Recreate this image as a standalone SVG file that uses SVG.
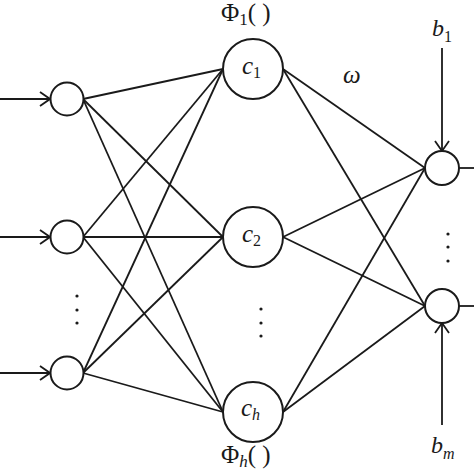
<svg xmlns="http://www.w3.org/2000/svg" width="474" height="474" viewBox="0 0 474 474">
<defs>
<marker id="arr" viewBox="0 0 12 16" refX="11" refY="8" markerWidth="12" markerHeight="16" markerUnits="userSpaceOnUse" orient="auto">
<path d="M1 1 L11 8 L1 15" fill="none" stroke="#1a1a1a" stroke-width="1.8"/>
</marker>
<style>
.n{fill:#fff;stroke:#1a1a1a;stroke-width:2}
.e line{stroke:#1a1a1a;stroke-width:1.8}
.t{font-family:"Liberation Serif","DejaVu Serif",serif;fill:#1a1a1a}
.i{font-style:italic}
.d{fill:#1a1a1a}
</style>
</defs>
<rect width="474" height="474" fill="#fff"/>
<g class="e" id="connectors">
<line x1="0" y1="99" x2="50" y2="99" marker-end="url(#arr)"/>
<line x1="0" y1="237" x2="50" y2="237" marker-end="url(#arr)"/>
<line x1="0" y1="373" x2="50" y2="373" marker-end="url(#arr)"/>
<line x1="83" y1="99" x2="223" y2="69"/>
<line x1="83" y1="99" x2="223" y2="237"/>
<line x1="83" y1="99" x2="223" y2="412"/>
<line x1="83" y1="237" x2="223" y2="69"/>
<line x1="83" y1="237" x2="223" y2="237"/>
<line x1="83" y1="237" x2="223" y2="412"/>
<line x1="83" y1="373" x2="223" y2="69"/>
<line x1="83" y1="373" x2="223" y2="237"/>
<line x1="83" y1="373" x2="223" y2="412"/>
<line x1="283" y1="69" x2="425" y2="168"/>
<line x1="283" y1="69" x2="425" y2="306"/>
<line x1="283" y1="237" x2="425" y2="168"/>
<line x1="283" y1="237" x2="425" y2="306"/>
<line x1="283" y1="412" x2="425" y2="168"/>
<line x1="283" y1="412" x2="425" y2="306"/>
<line x1="442" y1="48" x2="442" y2="151" marker-end="url(#arr)"/>
<line x1="442" y1="425" x2="442" y2="323" marker-end="url(#arr)"/>
<line x1="459" y1="168" x2="474" y2="168"/>
<line x1="459" y1="306" x2="474" y2="306"/>
</g>
<g id="in1"><circle class="n" cx="67" cy="99" r="16.5"/></g>
<g id="in2"><circle class="n" cx="67" cy="237" r="16.5"/></g>
<g id="in3"><circle class="n" cx="67" cy="373" r="16.5"/></g>
<g id="c1"><circle class="n" cx="253" cy="69" r="30"/>
<text class="t i" x="242" y="74" font-size="25">c<tspan font-style="normal" font-size="16" dy="4">1</tspan></text></g>
<g id="c2"><circle class="n" cx="253" cy="237" r="30"/>
<text class="t i" x="242" y="242" font-size="25">c<tspan font-style="normal" font-size="16" dy="4">2</tspan></text></g>
<g id="ch"><circle class="n" cx="253" cy="412" r="30"/>
<text class="t i" x="241" y="416" font-size="25">c<tspan font-size="16" dy="4">h</tspan></text></g>
<g id="out1"><circle class="n" cx="442" cy="168" r="17"/></g>
<g id="out2"><circle class="n" cx="442" cy="306" r="17"/></g>
<g id="labels">
<text class="t" x="221" y="21" font-size="25">Φ<tspan font-size="17" dy="4">1</tspan><tspan dy="-4">( )</tspan></text>
<text class="t" x="221" y="463" font-size="25">Φ<tspan class="i" font-size="17" dy="4">h</tspan><tspan dy="-4">( )</tspan></text>
<text class="t i" x="343" y="83" font-size="25">ω</text>
<text class="t i" x="432" y="36" font-size="24">b<tspan font-style="normal" font-size="16" dy="6">1</tspan></text>
<text class="t i" x="431" y="453" font-size="24">b<tspan font-size="16" dy="6">m</tspan></text>
</g>
<g id="dots">
<circle class="d" cx="77" cy="296" r="1.6"/><circle class="d" cx="77" cy="310" r="1.6"/><circle class="d" cx="77" cy="323" r="1.6"/>
<circle class="d" cx="261" cy="309" r="1.6"/><circle class="d" cx="261" cy="323" r="1.6"/><circle class="d" cx="261" cy="336" r="1.6"/>
<circle class="d" cx="448" cy="234" r="1.6"/><circle class="d" cx="448" cy="247" r="1.6"/><circle class="d" cx="448" cy="261" r="1.6"/>
</g>
</svg>
